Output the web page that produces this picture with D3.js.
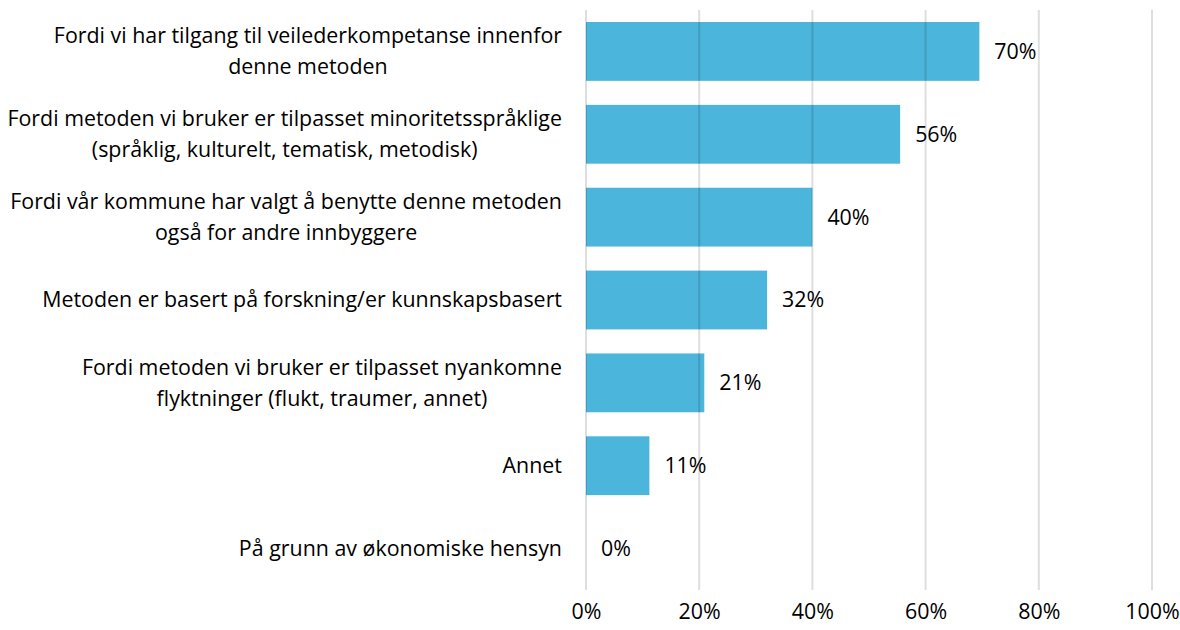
<!DOCTYPE html>
<html>
<head>
<meta charset="utf-8">
<script src="https://cdn.jsdelivr.net/npm/d3@7"></script>
<style>
  body { margin: 0; background: #fff; overflow: hidden; }
  svg { display: block; }
  text { font-family: "Open Sans", sans-serif; fill: #000; }
</style>
</head>
<body>
<script>
  // categories, each split into its displayed lines
  const categories = [
    ['Fordi vi har tilgang til veilederkompetanse innenfor', 'denne metoden'],
    ['Fordi metoden vi bruker er tilpasset minoritetsspråklige', '(språklig, kulturelt, tematisk, metodisk)'],
    ['Fordi vår kommune har valgt å benytte denne metoden', 'også for andre innbyggere'],
    ['Metoden er basert på forskning/er kunnskapsbasert'],
    ['Fordi metoden vi bruker er tilpasset nyankomne', 'flyktninger (flukt, traumer, annet)'],
    ['Annet'],
    ['På grunn av økonomiske hensyn']
  ];
  const values = [69.5, 55.5, 40.0, 32.0, 20.9, 11.2, 0];
  const valueLabels = ['70%', '56%', '40%', '32%', '21%', '11%', '0%'];
  const xTicks = [0, 20, 40, 60, 80, 100];

  const width = 1180;
  const height = 630;
  const margin = { top: 10, right: 28, bottom: 40, left: 586 };
  const innerWidth = width - margin.left - margin.right;
  const innerHeight = height - margin.top - margin.bottom;
  const fontSize = 21.4;

  const svg = d3.select('body').append('svg')
    .attr('width', width)
    .attr('height', height);

  const g = svg.append('g')
    .attr('transform', `translate(${margin.left},${margin.top})`);

  const xScale = d3.scaleLinear().domain([0, 100]).range([0, innerWidth]);
  const yScale = d3.scaleBand()
    .domain(d3.range(categories.length))
    .range([0, innerHeight])
    .paddingInner(0.29)
    .paddingOuter(0.145);

  // bars
  g.append('g')
    .selectAll('rect')
    .data(values)
    .join('rect')
    .attr('x', 0)
    .attr('y', (d, i) => yScale(i))
    .attr('width', (d) => xScale(d))
    .attr('height', yScale.bandwidth())
    .attr('fill', '#4BB5DB');

  // gridlines drawn on top, faint so they show through the bars
  g.append('g')
    .selectAll('line')
    .data(xTicks)
    .join('line')
    .attr('x1', (d) => xScale(d))
    .attr('x2', (d) => xScale(d))
    .attr('y1', 0)
    .attr('y2', innerHeight)
    .attr('stroke', '#000')
    .attr('stroke-opacity', 0.13)
    .attr('stroke-width', 2);

  // x axis tick labels
  const xAxis = g.append('g')
    .attr('transform', `translate(0,${innerHeight})`)
    .call(d3.axisBottom(xScale).tickValues(xTicks).tickFormat((d) => d + '%').tickSize(0).tickPadding(14));
  xAxis.select('.domain').remove();
  xAxis.selectAll('text')
    .style('font-family', '"Open Sans", sans-serif')
    .attr('font-size', fontSize);

  // value labels
  g.append('g')
    .selectAll('text')
    .data(values)
    .join('text')
    .attr('x', (d) => xScale(d) + 15)
    .attr('y', (d, i) => yScale(i) + yScale.bandwidth() / 2)
    .attr('dy', '0.35em')
    .attr('font-size', fontSize)
    .text((d, i) => valueLabels[i]);

  // category labels: block right aligned, lines centred within block
  const lineHeight = 31;
  const labelRight = -24;
  const labelGroups = g.append('g')
    .selectAll('g')
    .data(categories)
    .join('g');

  labelGroups.each(function (lines, i) {
    const grp = d3.select(this);
    const cy = yScale(i) + yScale.bandwidth() / 2;
    const texts = lines.map((line, j) => grp.append('text')
      .attr('font-size', fontSize)
      .attr('dy', '0.35em')
      .attr('y', cy + (j - (lines.length - 1) / 2) * lineHeight)
      .text(line));
    const widths = texts.map((t) => t.node().getComputedTextLength());
    const maxW = d3.max(widths);
    const centre = labelRight - maxW / 2;
    texts.forEach((t) => t.attr('x', centre).attr('text-anchor', 'middle'));
  });
</script>
</body>
</html>
